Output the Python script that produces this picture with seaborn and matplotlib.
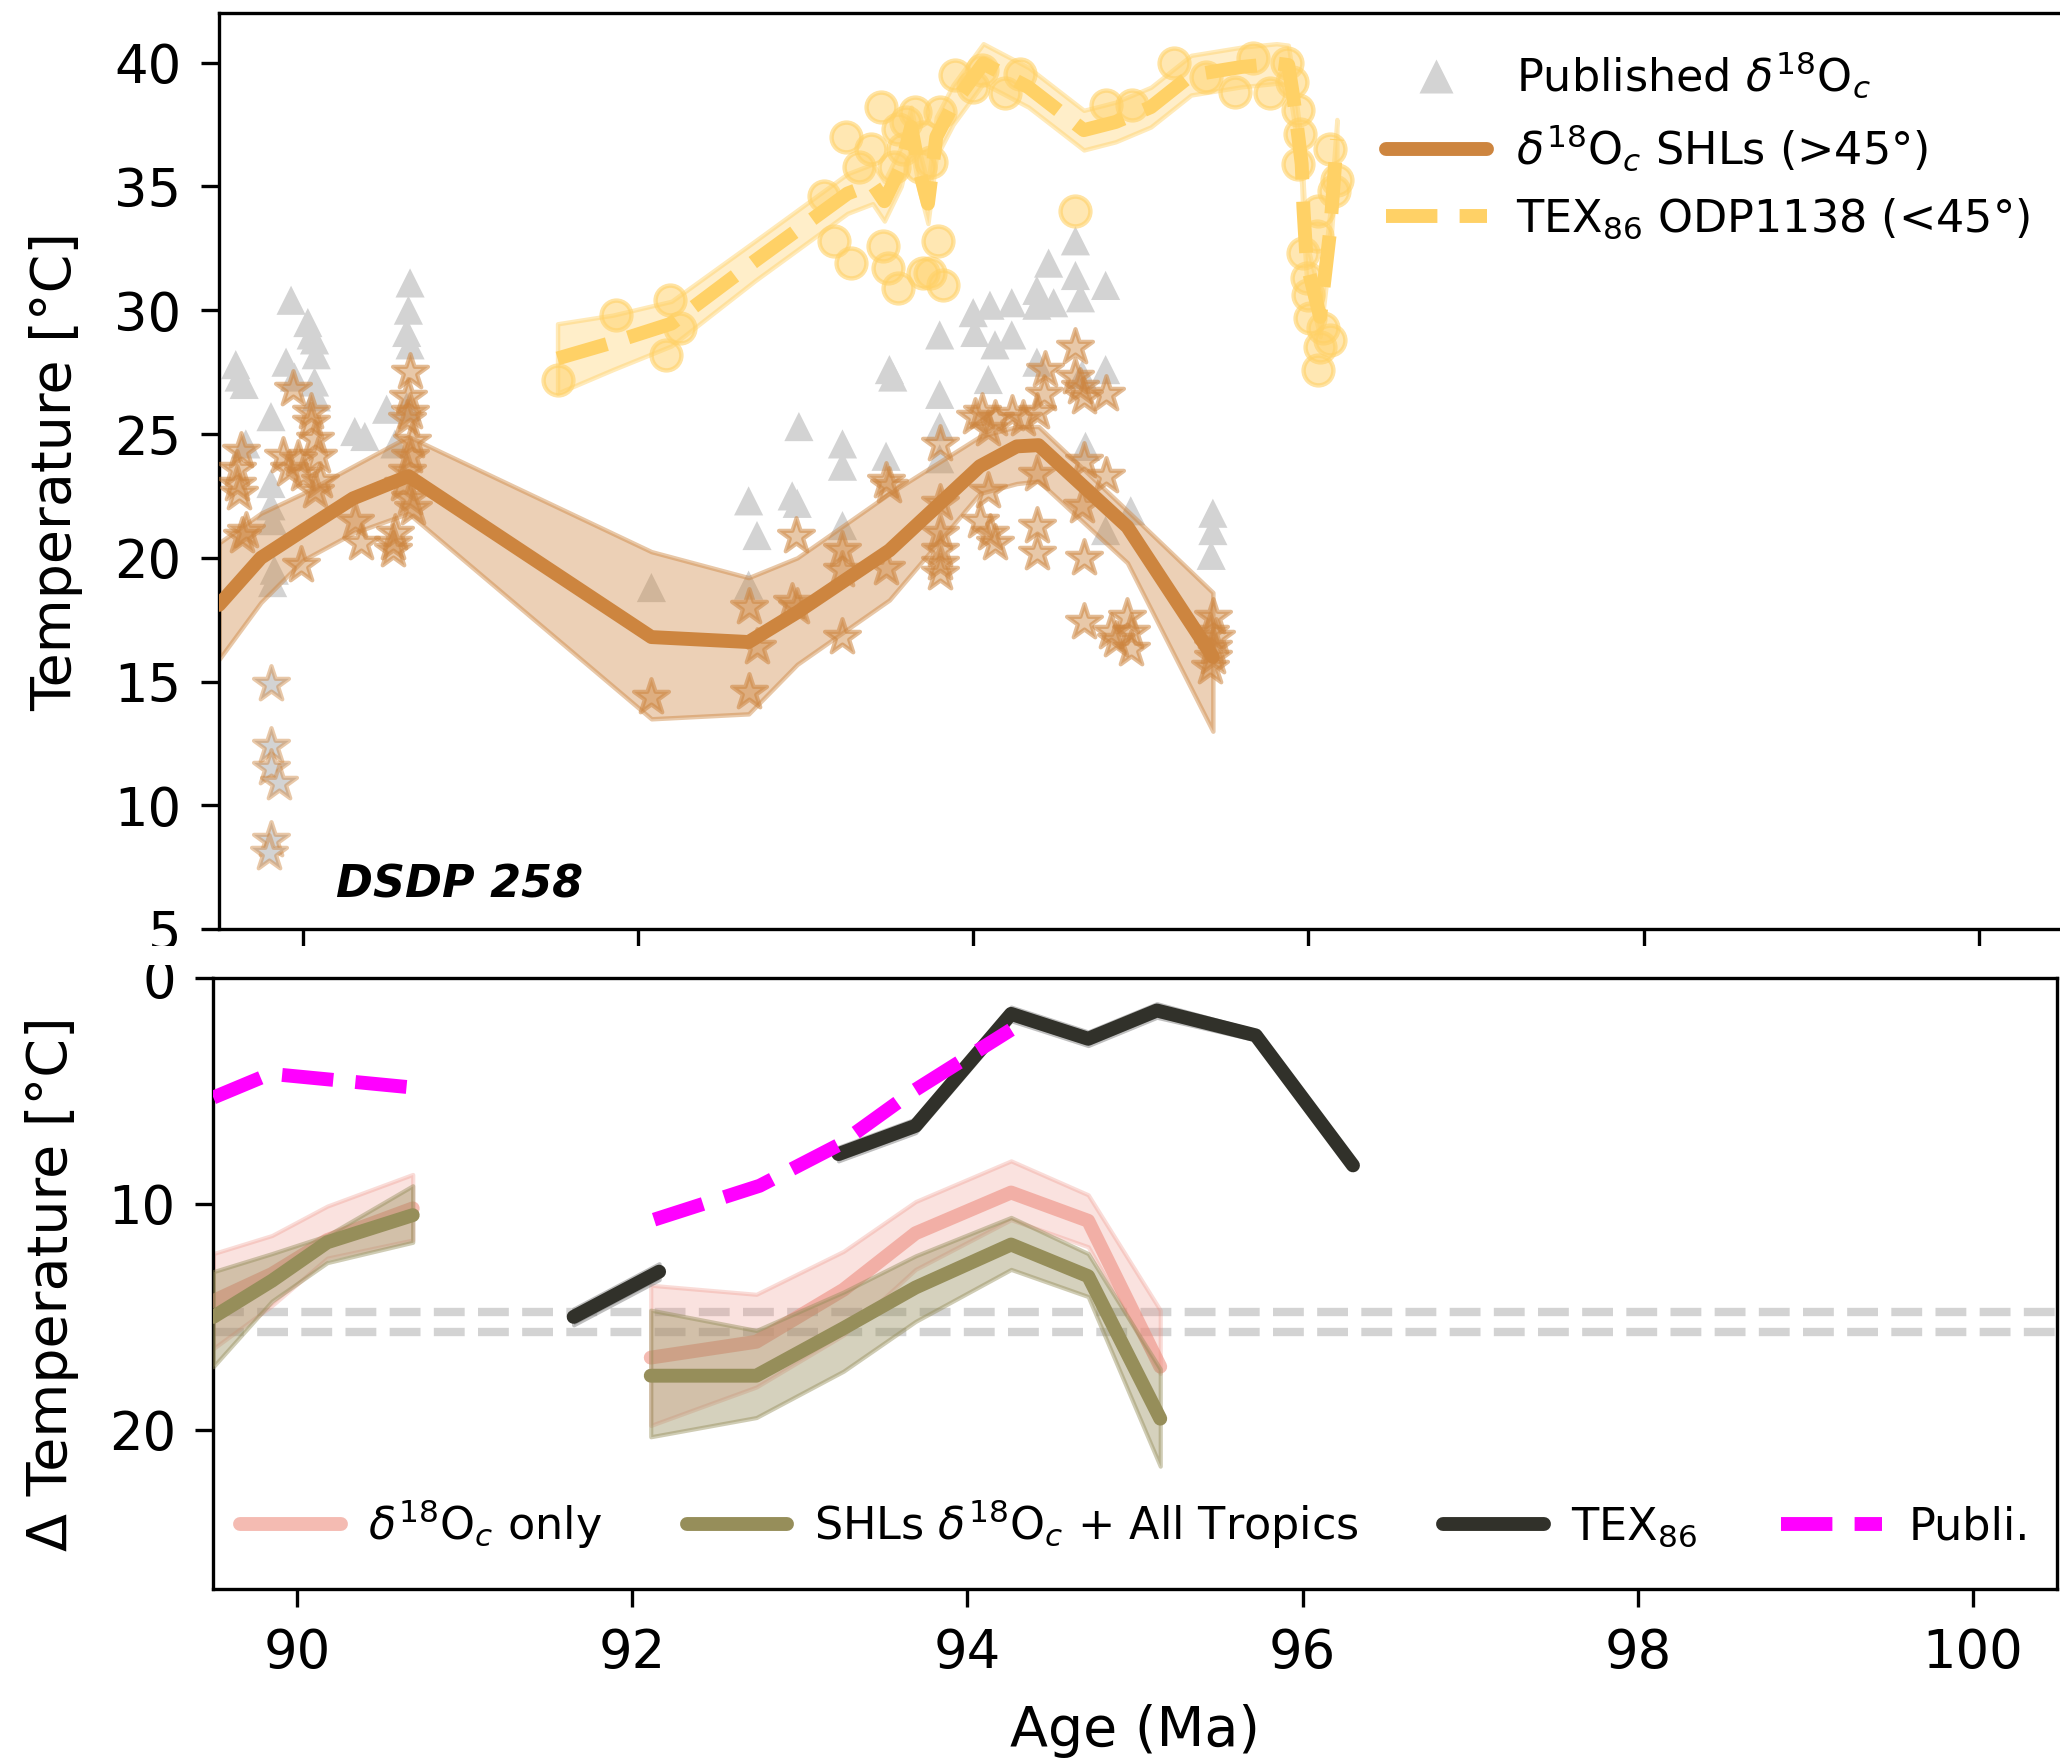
import numpy as np
import pandas as pd
import matplotlib
matplotlib.use("Agg")
import matplotlib.pyplot as plt
import seaborn as sns
from matplotlib.lines import Line2D
from matplotlib.patches import Rectangle
from matplotlib.colors import to_rgba

sns.set_style("ticks", rc={"text.color": "black", "axes.labelcolor": "black",
                           "xtick.color": "black", "ytick.color": "black",
                           "axes.edgecolor": "black"})
plt.rcParams["font.family"] = ["DejaVu Sans"]
plt.rcParams["mathtext.fontset"] = "dejavusans"

# ---------------- data: top panel ----------------
pub_age = [89.60, 89.62, 89.65, 89.66, 89.81, 89.81, 89.81, 89.82, 89.82, 89.83, 89.90, 89.93,
           89.95, 90.03, 90.05, 90.07, 90.08, 90.07, 90.08, 90.31, 90.37, 90.50, 90.55, 90.64,
           90.63, 90.62, 90.64, 90.62,
           92.08, 92.66, 92.71, 92.66, 92.96, 92.92, 92.95, 93.22, 93.22, 93.22, 93.48, 93.50,
           93.52, 93.80, 93.80, 93.80, 93.80, 94.00, 94.01, 94.10, 94.13, 94.09, 94.23, 94.23,
           94.38, 94.38, 94.40, 94.45, 94.48, 94.61, 94.61, 94.64, 94.79, 94.38, 94.79, 94.65,
           94.67, 94.94, 94.79, 95.43, 95.43, 95.42]
pub_temp = [27.8, 27.3, 27.0, 24.6, 25.7, 23.0, 22.1, 21.5, 19.0, 19.5, 27.9, 30.4,
            27.3, 29.5, 29.0, 28.8, 28.2, 27.1, 26.5, 25.1, 24.9, 26.0, 24.6, 31.1,
            30.0, 29.1, 28.6, 26.1,
            18.8, 22.3, 20.9, 18.9, 25.3, 22.5, 22.2, 24.6, 23.7, 21.3, 24.1, 27.6,
            27.3, 29.0, 26.6, 25.3, 24.0, 29.9, 29.1, 30.2, 28.6, 27.2, 30.3, 29.0,
            30.8, 30.2, 30.4, 31.9, 30.3, 32.8, 31.4, 30.5, 31.0, 27.9, 27.6, 27.4,
            24.5, 21.9, 21.1, 21.8, 21.1, 20.1]

shl_age = [89.63, 89.61, 89.61, 89.62, 89.66, 89.64,
           89.94, 89.88, 89.92, 89.97, 90.05, 90.05, 90.07, 90.09, 90.07, 90.10, 90.00, 89.99,
           90.31, 90.35, 90.54, 90.54, 90.55,
           90.64, 90.63, 90.64, 90.62, 90.65, 90.64, 90.62, 90.60, 90.64, 90.66,
           92.08,
           92.66, 92.71, 92.66, 92.94, 92.92, 92.95,
           93.22, 93.22, 93.22, 93.48, 93.50, 93.48,
           93.80, 93.80, 93.80, 93.80, 93.80, 93.80,
           94.01, 94.05, 94.09, 94.13, 94.23, 94.30, 94.38, 94.42, 94.09, 94.38, 94.04, 94.10,
           94.13, 94.38, 94.38,
           94.43, 94.61, 94.61, 94.64, 94.66, 94.79, 94.66, 94.79, 94.65, 94.66,
           94.66, 94.82, 94.92, 94.94, 94.94, 94.85,
           95.43, 95.41, 95.43, 95.43, 95.41, 95.45]
shl_temp = [24.3, 23.6, 23.0, 22.6, 21.1, 20.9,
            26.8, 24.1, 23.6, 24.0, 25.9, 25.5, 24.8, 24.1, 22.7, 23.1, 23.4, 19.7,
            21.5, 20.6, 20.6, 20.3, 21.0,
            27.5, 26.5, 25.9, 25.6, 24.7, 24.1, 23.5, 23.0, 22.4, 22.0,
            14.4,
            18.0, 16.4, 14.6, 20.9, 18.2, 18.0,
            16.8, 20.3, 19.5, 23.1, 22.9, 19.6,
            24.6, 22.2, 21.0, 20.3, 19.8, 19.4,
            25.7, 25.9, 25.2, 25.6, 25.8, 25.6, 25.9, 26.6, 22.7, 23.4, 21.5, 21.0,
            20.6, 21.3, 20.2,
            27.6, 28.5, 27.3, 26.9, 26.5, 26.6, 23.9, 23.3, 22.1, 20.0,
            17.4, 17.0, 17.6, 17.0, 16.3, 16.7,
            17.6, 17.0, 16.4, 16.0, 15.6, 16.8]

excl_age = [89.81, 89.81, 89.81, 89.86, 89.81, 89.80]
excl_temp = [14.9, 12.4, 11.5, 10.9, 8.6, 8.1]

shl_fit_age = [89.50, 89.75, 90.00, 90.30, 90.63, 92.08, 92.66, 92.95, 93.50, 94.04, 94.26, 94.39, 94.92, 95.43]
shl_fit = [18.1, 20.0, 21.1, 22.4, 23.3, 16.8, 16.6, 17.8, 20.3, 23.7, 24.5, 24.55, 21.25, 16.0]
shl_hi = [20.6, 21.8, 22.6, 23.7, 24.9, 20.25, 19.2, 20.0, 22.6, 24.9, 25.3, 25.3, 21.9, 18.6]
shl_lo = [15.9, 18.2, 19.9, 21.0, 21.8, 13.5, 13.7, 15.7, 18.3, 22.6, 23.0, 23.1, 19.8, 13.0]

tex_age = [91.52, 91.87, 92.19, 92.25, 92.17, 93.11, 93.17, 93.27, 93.24, 93.32, 93.39, 93.45,
           93.53, 93.55, 93.46, 93.49, 93.55, 93.70, 93.74, 93.82, 93.79, 93.89, 93.60, 93.65,
           93.70, 93.75, 93.80, 93.68, 93.58, 94.00, 94.05, 94.19, 94.28, 94.61, 94.79, 94.95,
           95.20, 95.39, 95.56, 95.67, 95.77, 95.87, 95.90, 95.94, 95.95, 95.94, 96.13, 96.17,
           96.15, 96.06, 96.05, 95.97, 95.99, 96.00, 96.01, 96.09, 96.13, 96.07, 96.06]
tex_temp = [27.2, 29.8, 30.4, 29.3, 28.2, 34.6, 32.8, 31.9, 37.0, 35.8, 36.5, 38.2,
            35.8, 37.3, 32.6, 31.7, 30.9, 31.5, 31.5, 31.0, 32.8, 39.5, 37.6, 38.0,
            37.0, 36.0, 38.0, 35.8, 36.5, 39.0, 39.7, 38.75, 39.55, 34.0, 38.3, 38.3,
            40.0, 39.4, 38.8, 40.2, 38.75, 40.0, 39.2, 38.1, 37.1, 35.9, 36.5, 35.25,
            34.8, 34.0, 33.0, 32.3, 31.3, 30.6, 29.7, 29.3, 28.8, 28.5, 27.6]

tex_fit_age = [91.52, 91.85, 92.20, 92.70, 93.25, 93.40, 93.47, 93.57, 93.63, 93.68, 93.73, 93.78,
               93.88, 94.06, 94.33, 94.66, 94.85, 95.06, 95.30, 95.60, 95.81, 95.88, 95.91, 95.94,
               95.96, 95.97, 95.99, 96.07, 96.13, 96.17]
tex_fit = [28.05, 28.7, 29.46, 32.0, 34.71, 35.1, 34.4, 35.8, 37.4, 35.6, 34.3, 37.0,
           38.3, 39.96, 39.0, 37.27, 37.6, 38.2, 39.49, 39.82, 39.96, 39.9, 38.6, 37.0,
           35.9, 34.17, 31.9, 29.73, 33.23, 36.9]
tex_err = [1.4, 1.1, 0.9, 0.8, 0.8, 0.8, 0.8, 0.8, 0.8, 0.8, 0.8, 0.8,
           0.8, 0.8, 0.8, 0.8, 0.8, 0.8, 0.8, 0.8, 0.8, 0.8, 0.8, 0.8,
           0.8, 0.8, 0.8, 0.8, 0.8, 0.8]

# ---------------- data: bottom panel ----------------
d18_seg = [0, 0, 0, 0, 1, 1, 1, 1, 1, 1, 1]
d18_age = [89.50, 89.85, 90.18, 90.69, 92.11, 92.74, 93.26, 93.69, 94.26, 94.72, 95.15]
d18_only = [14.3, 13.1, 11.6, 10.2, 16.8, 16.1, 13.8, 11.3, 9.5, 10.75, 17.2]
d18_only_hi = [12.2, 11.4, 10.1, 8.7, 13.6, 14.0, 12.1, 9.9, 8.1, 9.6, 14.7]
d18_only_lo = [16.4, 14.5, 12.4, 11.6, 19.8, 18.1, 15.8, 12.9, 10.7, 11.9, 17.5]
d18_trop = [15.0, 13.4, 11.7, 10.5, 17.6, 17.6, 15.5, 13.7, 11.8, 13.2, 19.5]
d18_trop_hi = [13.0, 12.2, 11.4, 9.2, 14.7, 15.6, 13.9, 12.3, 10.6, 12.2, 17.3]
d18_trop_lo = [17.2, 14.3, 12.6, 11.7, 20.3, 19.45, 17.4, 15.2, 12.9, 14.1, 21.6]

texd_seg = [0, 0, 1, 1, 1, 1, 1, 1, 1]
texd_age = [91.65, 92.16, 93.23, 93.69, 94.26, 94.72, 95.13, 95.72, 96.30]
texd = [15.0, 13.0, 7.8, 6.55, 1.6, 2.7, 1.45, 2.55, 8.3]
texd_err = [0.35, 0.35, 0.3, 0.3, 0.3, 0.3, 0.3, 0.2, 0.1]

publ_seg = [0, 0, 0, 1, 1, 1, 1, 1]
publ_age = [89.50, 89.84, 90.68, 92.13, 92.76, 93.23, 93.68, 94.26]
publ = [5.3, 4.25, 4.85, 10.7, 9.2, 7.4, 5.0, 2.3]

hlines_y = [14.8, 15.65]

# ---------------- styling ----------------
W, H, DPI = 2060, 1759, 200
fig = plt.figure(figsize=(W / DPI, H / DPI), dpi=DPI)
ax1 = fig.add_axes([219 / W, 1 - 929.3 / H, 1843.6 / W, (929.3 - 13) / H])
ax2 = fig.add_axes([213.3 / W, 1 - 1589.4 / H, 1843.6 / W, (1589.4 - 977.7) / H])

PERU = "#CD853F"
YEL = "#FFD166"
PINK = "#EE8E80"
OLIVE = "#968E5A"
BLACK = "#31312A"
MAG = "#FF00FF"
LW = 5.0
LFS = 16  # legend font size

# ---- top panel ----
pub_df = pd.DataFrame({"age": pub_age, "temp": pub_temp})
sns.scatterplot(data=pub_df, x="age", y="temp", marker="^", s=110, color="lightgray",
                edgecolor="none", ax=ax1, zorder=1, legend=False)

ax1.fill_between(shl_fit_age, shl_lo, shl_hi, facecolor=to_rgba(PERU, 0.38),
                 edgecolor=to_rgba(PERU, 0.45), lw=1.6, zorder=2)

shl_df = pd.DataFrame({"age": shl_age, "temp": shl_temp})
sns.scatterplot(data=shl_df, x="age", y="temp", marker="*", s=175,
                facecolor=to_rgba(PERU, 0.45), edgecolor=to_rgba(PERU, 0.55),
                linewidth=1.5, ax=ax1, zorder=3, legend=False)
excl_df = pd.DataFrame({"age": excl_age, "temp": excl_temp})
sns.scatterplot(data=excl_df, x="age", y="temp", marker="*", s=175,
                facecolor="lightgray", edgecolor=to_rgba(PERU, 0.45),
                linewidth=1.5, ax=ax1, zorder=3, legend=False)

shl_fit_df = pd.DataFrame({"age": shl_fit_age, "temp": shl_fit})
sns.lineplot(data=shl_fit_df, x="age", y="temp", color=PERU, lw=LW, ax=ax1,
             estimator=None, sort=False, zorder=4, legend=False)

tex_df = pd.DataFrame({"age": tex_age, "temp": tex_temp})
sns.scatterplot(data=tex_df, x="age", y="temp", marker="o", s=115,
                facecolor=to_rgba(YEL, 0.5), edgecolor=to_rgba(YEL, 0.6),
                linewidth=1.6, ax=ax1, zorder=3, legend=False)
tex_lo = np.array(tex_fit) - np.array(tex_err)
tex_hi = np.array(tex_fit) + np.array(tex_err)
ax1.fill_between(tex_fit_age, tex_lo, tex_hi, facecolor=to_rgba(YEL, 0.35),
                 edgecolor=to_rgba(YEL, 0.45), lw=1.6, zorder=2)
tex_fit_df = pd.DataFrame({"age": tex_fit_age, "temp": tex_fit})
sns.lineplot(data=tex_fit_df, x="age", y="temp", color=YEL, lw=LW, ls="--",
             ax=ax1, estimator=None, sort=False, zorder=4, legend=False)

ax1.set_xlim(89.5, 100.5)
ax1.set_ylim(5, 42)
ax1.set_yticks(range(5, 41, 5))
ax1.set_xticks(range(90, 101, 2))
ax1.tick_params(axis="x", labelbottom=False)
ax1.set_xlabel("")
ax1.set_ylabel("Temperature [°C]", fontsize=20)
ax1.yaxis.set_label_coords(-0.0738, 0.5)
ax1.text(90.2, 6.3, "DSDP 258", fontsize=16, fontweight="bold", fontstyle="italic")

h_top = [Line2D([], [], marker="^", ls="none", color="lightgray", markersize=12, mec="none"),
         Line2D([], [], color=PERU, lw=LW),
         Line2D([], [], color=YEL, lw=LW, ls="--")]
l_top = [r"Published $\delta^{18}$O$_c$", r"$\delta^{18}$O$_c$ SHLs (>45°)",
         r"TEX$_{86}$ ODP1138 (<45°)"]
ax1.legend(h_top, l_top, loc="upper left", bbox_to_anchor=(0.633, 0.96), frameon=False,
           fontsize=LFS, borderpad=0, borderaxespad=0, handlelength=2.27, handletextpad=0.65,
           labelspacing=0.5)

# ---- bottom panel ----
for y in hlines_y:
    ax2.axhline(y, color="lightgray", lw=3, ls="--", zorder=1)

d18_df = pd.DataFrame({"seg": d18_seg, "age": d18_age, "only": d18_only,
                       "only_hi": d18_only_hi, "only_lo": d18_only_lo,
                       "trop": d18_trop, "trop_hi": d18_trop_hi, "trop_lo": d18_trop_lo})
for _, g in d18_df.groupby("seg"):
    ax2.fill_between(g["age"], g["only_lo"], g["only_hi"], facecolor=to_rgba(PINK, 0.25),
                     edgecolor=to_rgba(PINK, 0.3), lw=1.5, zorder=2)
sns.lineplot(data=d18_df, x="age", y="only", units="seg", estimator=None, sort=False,
             color=PINK, alpha=0.6, lw=LW, ax=ax2, zorder=3, legend=False)
for _, g in d18_df.groupby("seg"):
    ax2.fill_between(g["age"], g["trop_lo"], g["trop_hi"], facecolor=to_rgba(OLIVE, 0.4),
                     edgecolor=to_rgba(OLIVE, 0.45), lw=1.5, zorder=4)
sns.lineplot(data=d18_df, x="age", y="trop", units="seg", estimator=None, sort=False,
             color=OLIVE, lw=LW, ax=ax2, zorder=5, legend=False)

texd_df = pd.DataFrame({"seg": texd_seg, "age": texd_age, "d": texd,
                        "lo": np.array(texd) - np.array(texd_err),
                        "hi": np.array(texd) + np.array(texd_err)})
for _, g in texd_df.groupby("seg"):
    ax2.fill_between(g["age"], g["lo"], g["hi"], facecolor=to_rgba("gray", 0.5),
                     edgecolor=to_rgba("gray", 0.5), lw=1.5, zorder=5)
sns.lineplot(data=texd_df, x="age", y="d", units="seg", estimator=None, sort=False,
             color=BLACK, lw=LW, ax=ax2, zorder=6, legend=False)

publ_df = pd.DataFrame({"seg": publ_seg, "age": publ_age, "d": publ})
sns.lineplot(data=publ_df, x="age", y="d", units="seg", estimator=None, sort=False,
             color=MAG, lw=LW, ls="--", ax=ax2, zorder=7, legend=False)

ax2.set_xlim(89.5, 100.5)
ax2.set_ylim(27.05, 0)
ax2.set_yticks([0, 10, 20])
ax2.set_xticks(range(90, 101, 2))
ax2.set_xlabel("Age (Ma)", fontsize=20)
ax2.xaxis.set_label_coords(0.5, -0.187)
ax2.set_ylabel("Δ Temperature [°C]", fontsize=20)
ax2.yaxis.set_label_coords(-0.0728, 0.5)

h_bot = [Line2D([], [], color=PINK, alpha=0.6, lw=LW),
         Line2D([], [], color=OLIVE, lw=LW),
         Line2D([], [], color=BLACK, lw=LW),
         Line2D([], [], color=MAG, lw=LW, ls="--")]
l_bot = [r"$\delta^{18}$O$_c$ only", r"SHLs $\delta^{18}$O$_c$ + All Tropics",
         r"TEX$_{86}$", "Publi."]
ax2.legend(h_bot, l_bot, loc="center left", bbox_to_anchor=(0.0147, 0.107), ncol=4,
           frameon=False, fontsize=LFS, borderpad=0, borderaxespad=0, handlelength=2.27,
           handletextpad=0.6, columnspacing=1.9)

for ax in (ax1, ax2):
    for sp in ax.spines.values():
        sp.set_linewidth(1.2)
        sp.set_visible(True)
    ax.tick_params(labelsize=19, length=6.5, width=1.2, pad=7, color="black",
                   labelcolor="black")

fig.patches.append(Rectangle((0, 1 - 965 / H), 1, 19 / H, transform=fig.transFigure,
                             facecolor="white", edgecolor="none", zorder=10))

fig.savefig("out.png", dpi=DPI)
